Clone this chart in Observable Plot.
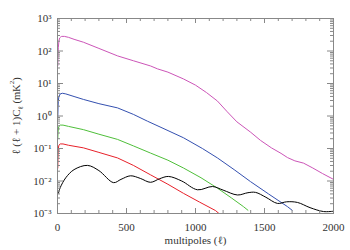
<!DOCTYPE html>
<html><head><meta charset="utf-8">
<script src="https://cdn.jsdelivr.net/npm/d3@7"></script>
<script src="https://cdn.jsdelivr.net/npm/@observablehq/plot@0.6"></script>
<style>body{margin:0;background:#fff}</style>
</head><body><div id="chart"></div>
<script>
// multipole ℓ and log10 of ℓ(ℓ+1)Cℓ (mK²)
const magentaL = [2,4,6,10,15,20,30,50,80,120,188,300,435,550,674,725,800,913,1000,1080,1159,1230,1300,1400,1471,1550,1620,1667,1720,1783,1850,1920,2000];
const magentaV = [1.55,1.9,2.1,2.3,2.4,2.42,2.45,2.45,2.42,2.36,2.27,2.08,1.85,1.7,1.54,1.45,1.35,1.14,0.95,0.72,0.46,0.13,-0.18,-0.5,-0.75,-0.98,-1.15,-1.28,-1.38,-1.45,-1.6,-1.77,-1.95];
const blueL = [2,4,6,10,20,35,60,120,188,300,435,550,652,750,913,1050,1159,1280,1399,1530,1667,1700];
const blueV = [-0.05,0.3,0.45,0.6,0.68,0.7,0.68,0.6,0.51,0.38,0.25,0.05,-0.16,-0.35,-0.67,-1.0,-1.29,-1.65,-2.02,-2.4,-2.79,-2.9];
const greenL = [2,4,6,10,20,40,80,188,300,435,550,674,800,913,1040,1159,1260,1348,1380];
const greenV = [-0.7,-0.5,-0.4,-0.32,-0.28,-0.28,-0.32,-0.42,-0.56,-0.72,-0.92,-1.14,-1.36,-1.6,-1.9,-2.22,-2.52,-2.79,-2.9];
const redL = [2,4,6,10,20,40,80,188,300,435,550,674,800,913,1030,1145,1170];
const redV = [-1.6,-1.2,-1.0,-0.9,-0.86,-0.86,-0.9,-0.98,-1.12,-1.29,-1.52,-1.81,-2.1,-2.38,-2.65,-2.91,-3.0];
const blackL = [2,5,20,60,120,217,300,406,460,529,600,674,740,804,900,1014,1123,1200,1304,1380,1435,1510,1594,1660,1739,1830,1928,2000];
const blackV = [-2.35,-2.38,-2.2,-1.9,-1.65,-1.52,-1.68,-2.05,-1.95,-1.84,-1.92,-2.04,-1.93,-1.86,-2.0,-2.27,-2.17,-2.28,-2.43,-2.36,-2.35,-2.5,-2.69,-2.64,-2.66,-2.82,-2.94,-2.93];

const seriesNames = ["magenta","blue","green","red","black"];
const seriesColors = ["#cc55b8","#3450b0","#4fbf3a","#e8212a","#000000"];
const seriesL = [magentaL,blueL,greenL,redL,blackL];
const seriesV = [magentaV,blueV,greenV,redV,blackV];

const xMajor = [0,500,1000,1500,2000];
const xMinor = d3.range(0,2001,100);
const yMajor = [1e-3,1e-2,1e-1,1e0,1e1,1e2,1e3];
const yMinor = d3.range(-3,3).flatMap(k => d3.range(2,10).map(m => m*Math.pow(10,k)));

const rows = seriesNames.flatMap((s,i) => seriesL[i].map((l,j) => ({s, l, v: Math.pow(10, seriesV[i][j])})));

const sup = {"-":"\u207B","0":"\u2070","1":"\u00B9","2":"\u00B2","3":"\u00B3"};
const fmt = d => "10" + String(Math.round(Math.log10(d))).split("").map(c => sup[c]).join("");
const gray = "#888";

const W = 350, H = 250, ML = 57, MR = 17, MT = 18, MB = 37;
const innerW = W - ML - MR, innerH = H - MT - MB;

const marks = [];
for (let i = 0; i < seriesNames.length; i++) {
  marks.push(Plot.line(rows.filter(r => r.s === seriesNames[i]), {x:"l", y:"v", stroke: seriesColors[i], strokeWidth: 1, curve: i === 4 ? "catmull-rom" : "linear", clip: true}));
}
marks.push(Plot.frame({stroke: gray}));
// inward ticks on all four sides
marks.push(Plot.tickX(xMajor, {x: d => d, stroke: gray, insetTop: innerH - 5}));
marks.push(Plot.tickX(xMajor, {x: d => d, stroke: gray, insetBottom: innerH - 5}));
marks.push(Plot.tickX(xMinor, {x: d => d, stroke: gray, insetTop: innerH - 3}));
marks.push(Plot.tickX(xMinor, {x: d => d, stroke: gray, insetBottom: innerH - 3}));
marks.push(Plot.tickY(yMajor, {y: d => d, stroke: gray, insetRight: innerW - 6}));
marks.push(Plot.tickY(yMajor, {y: d => d, stroke: gray, insetLeft: innerW - 6}));
marks.push(Plot.tickY(yMinor, {y: d => d, stroke: gray, insetRight: innerW - 3}));
marks.push(Plot.tickY(yMinor, {y: d => d, stroke: gray, insetLeft: innerW - 3}));
marks.push(Plot.axisX(xMajor, {anchor: "bottom", tickSize: 0, tickPadding: 10, fill: "#333", tickFormat: d => String(d), label: "multipoles (\u2113)", labelAnchor: "center", labelOffset: 30, labelArrow: "none"}));
marks.push(Plot.axisY(yMajor, {anchor: "left", tickSize: 0, tickPadding: 6, fill: "#333", tickFormat: fmt, label: null}));

const plot = Plot.plot({
  width: W, height: H,
  marginLeft: ML, marginRight: MR, marginTop: MT, marginBottom: MB,
  style: {fontFamily: "'Liberation Serif', serif", fontSize: "11px", color: "#333", background: "white"},
  x: {domain: [0, 2000]},
  y: {type: "log", domain: [1e-3, 1e3]},
  marks
});

// y-axis label with subscript ℓ and superscript 2
const ns = "http://www.w3.org/2000/svg";
const t = document.createElementNS(ns, "text");
t.setAttribute("transform", "translate(20,116) rotate(-90)");
t.setAttribute("text-anchor", "middle");
t.setAttribute("fill", "#333");
t.setAttribute("font-size", "10.5");
t.setAttribute("font-family", "'Liberation Serif', serif");
const parts = [["\u2113 (\u2113 + 1)C", 0, 11], ["\u2113", 3, 7], [" (mK", -3, 10.5], ["2", -6, 7], [")", 6, 10.5]];
for (const [txt, dy, fs] of parts) {
  const ts = document.createElementNS(ns, "tspan");
  ts.textContent = txt;
  ts.setAttribute("font-size", fs);
  if (dy) ts.setAttribute("dy", dy);
  t.appendChild(ts);
}
plot.appendChild(t);
document.getElementById("chart").appendChild(plot);
</script>
</body></html>
